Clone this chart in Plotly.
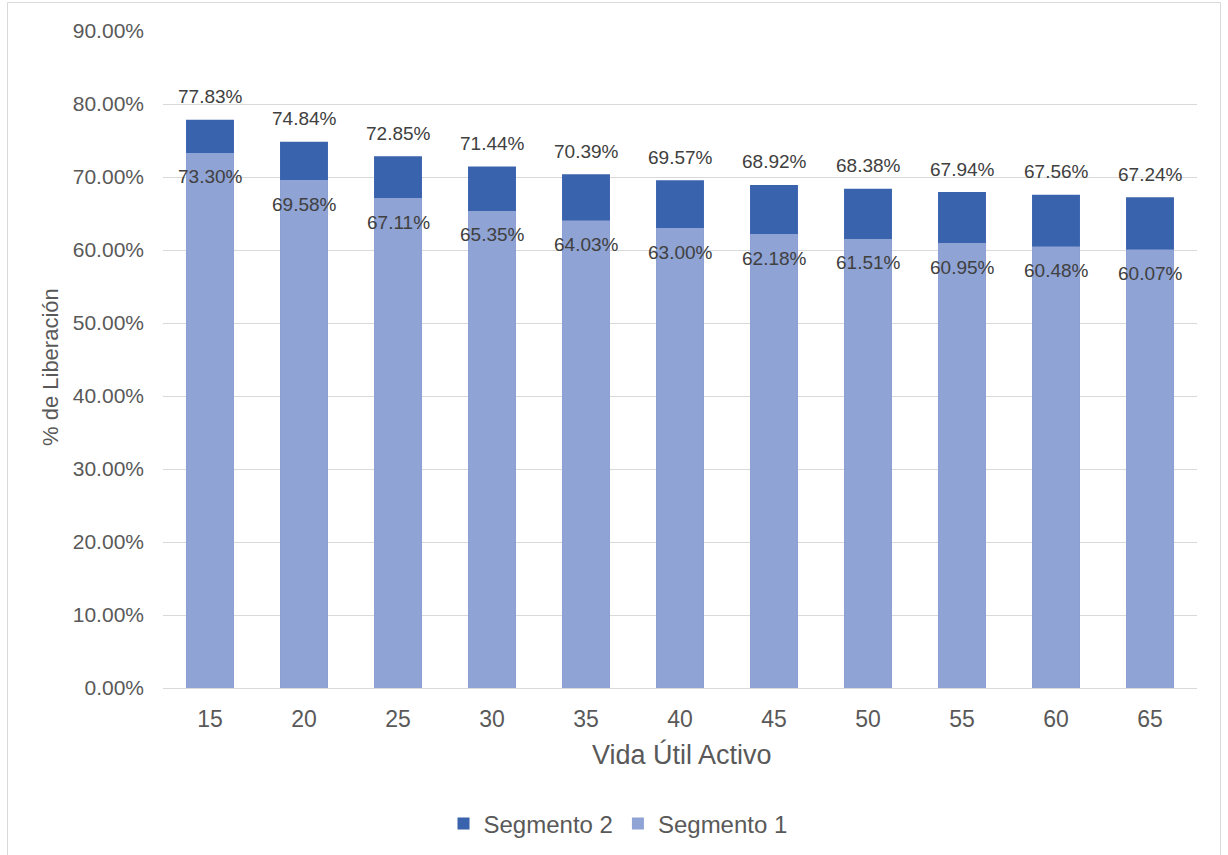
import plotly.graph_objects as go

categories = ["15", "20", "25", "30", "35", "40", "45", "50", "55", "60", "65"]
segmento_1 = [73.30, 69.58, 67.11, 65.35, 64.03, 63.00, 62.18, 61.51, 60.95, 60.48, 60.07]
segmento_2 = [77.83, 74.84, 72.85, 71.44, 70.39, 69.57, 68.92, 68.38, 67.94, 67.56, 67.24]
y_ticks = [0, 10, 20, 30, 40, 50, 60, 70, 80, 90]
y_tick_labels = [f"{v:.2f}%" for v in y_ticks]

FONT = "Liberation Sans, Arial, sans-serif"
TICK_COLOR = "#595959"
LABEL_COLOR = "#404040"

fig = go.Figure()
fig.add_trace(go.Bar(x=categories, y=segmento_2, name="Segmento 2",
                     marker=dict(color="#3A63AD", line=dict(width=0)), width=0.51))
fig.add_trace(go.Bar(x=categories, y=segmento_1, name="Segmento 1",
                     marker=dict(color="#8FA3D4", line=dict(width=0)), width=0.51))

annotations = []
for i, v in enumerate(segmento_2):
    annotations.append(dict(x=i, y=v, xref="x", yref="y", text=f"{v:.2f}%", showarrow=False,
                            yanchor="middle", yshift=23,
                            font=dict(family=FONT, size=19, color=LABEL_COLOR)))
for i, v in enumerate(segmento_1):
    annotations.append(dict(x=i, y=v, xref="x", yref="y", text=f"{v:.2f}%", showarrow=False,
                            yanchor="middle", yshift=-24,
                            font=dict(family=FONT, size=19, color=LABEL_COLOR)))

annotations.append(dict(x=(682 - 163) / 1034, y=(688 - 754) / 657, xref="paper", yref="paper",
                        text="Vida Útil Activo", showarrow=False, xanchor="center", yanchor="middle",
                        font=dict(family=FONT, size=27, color=TICK_COLOR)))
annotations.append(dict(x=(50 - 163) / 1034, y=(688 - 367) / 657, xref="paper", yref="paper",
                        text="% de Liberación", showarrow=False, textangle=-90,
                        xanchor="center", yanchor="middle",
                        font=dict(family=FONT, size=22, color=TICK_COLOR)))

fig.update_layout(
    width=1228, height=855,
    margin=dict(l=163, r=31, t=31, b=167, autoexpand=False),
    barmode="overlay",
    paper_bgcolor="white", plot_bgcolor="white",
    font=dict(family=FONT, color=TICK_COLOR),
    showlegend=True,
    legend=dict(orientation="h", xref="container", x=618 / 1228, xanchor="center",
                yref="container", y=(855 - 824) / 855, yanchor="middle",
                font=dict(family=FONT, size=24, color=TICK_COLOR),
                traceorder="normal", itemwidth=30),
    annotations=annotations,
    shapes=[dict(type="rect", xref="paper", yref="paper",
                 x0=(7.5 - 163) / 1034, x1=(1220.5 - 163) / 1034,
                 y0=(688 - 870) / 657, y1=(688 - 2.5) / 657,
                 line=dict(color="#D9D9D9", width=1), fillcolor="rgba(0,0,0,0)", layer="below")],
    xaxis=dict(type="category", range=[-0.5, len(categories) - 0.5],
               tickfont=dict(family=FONT, size=23, color=TICK_COLOR),
               showgrid=False, showline=True, linecolor="#D9D9D9", linewidth=1,
               ticks="", ticklen=0, ticklabelstandoff=10, automargin=False),
    yaxis=dict(range=[0, 90], tickvals=y_ticks, ticktext=y_tick_labels,
               tickfont=dict(family=FONT, size=21, color=TICK_COLOR),
               showgrid=True, gridcolor="#D9D9D9", gridwidth=1,
               zeroline=False, showline=False, ticks="", ticklabelstandoff=18, automargin=False),
)

fig.write_html("out.html", config={"displayModeBar": False},
               post_script="document.body.style.margin='0px';")
